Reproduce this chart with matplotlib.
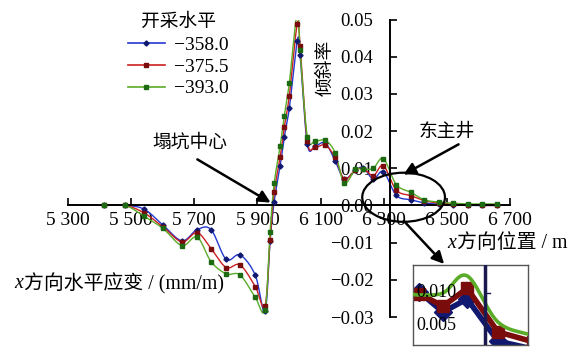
import numpy as np
import matplotlib
matplotlib.use("Agg")
import matplotlib.pyplot as plt
from matplotlib.patches import Ellipse, FancyArrowPatch

plt.rcParams["font.family"] = ["Liberation Serif", "Noto Sans CJK SC"]
plt.rcParams["axes.unicode_minus"] = True

# x position (m) of survey points
x_pos = [5414, 5481, 5541, 5601, 5661, 5709, 5753, 5801, 5845, 5893,
         5924, 5940, 5953, 5972, 5985, 6001, 6026, 6035, 6058, 6083,
         6115, 6146, 6175, 6210, 6235, 6267, 6299, 6340, 6387, 6429,
         6476, 6520, 6568, 6612, 6660]

level_358 = [0.0, 0.0, -0.0010, -0.0053, -0.0095, -0.0065, -0.0065, -0.0145, -0.0133, -0.0187,
             -0.0285, -0.0096, 0.0010, 0.0107, 0.0184, 0.0262, 0.0442, 0.0405, 0.0165, 0.0160,
             0.0168, 0.0120, 0.0072, 0.0094, 0.0102, 0.0071, 0.0091, 0.0027, 0.0015, 0.0007,
             0.0003, 0.0001, 0.0, 0.0, 0.0]

level_375 = [0.0, 0.0, -0.0020, -0.0058, -0.0098, -0.0073, -0.0116, -0.0167, -0.0160, -0.0218,
             -0.0270, -0.0093, 0.0035, 0.0130, 0.0210, 0.0295, 0.0488, 0.0430, 0.0173, 0.0157,
             0.0162, 0.0129, 0.0071, 0.0095, 0.0099, 0.0080, 0.0107, 0.0041, 0.0026, 0.0013,
             0.0006, 0.0003, 0.0001, 0.0, 0.0]

level_393 = [0.0, 0.0, -0.0029, -0.0062, -0.0108, -0.0085, -0.0151, -0.0184, -0.0187, -0.0247,
             -0.0280, -0.0071, 0.0059, 0.0160, 0.0240, 0.0329, 0.0520, 0.0418, 0.0185, 0.0173,
             0.0175, 0.0142, 0.0060, 0.0097, 0.0097, 0.0100, 0.0126, 0.0056, 0.0035, 0.0015,
             0.0009, 0.0006, 0.0004, 0.0004, 0.0004]

series_labels = ["\u2212358.0", "\u2212375.5", "\u2212393.0"]

x_ticks = [5300, 5500, 5700, 5900, 6100, 6300, 6500, 6700]
x_tick_labels = ["5 300", "5 500", "5 700", "5 900", "6 100", "6 300", "6 500", "6 700"]
y_ticks = [-0.03, -0.02, -0.01, 0.00, 0.01, 0.02, 0.03, 0.04, 0.05]
y_tick_labels = ["\u22120.03", "\u22120.02", "\u22120.01", "0.00", "0.01", "0.02", "0.03", "0.04", "0.05"]

shaft_x = 6320
CJK = ["Noto Sans CJK SC"]


def smooth(xs, ys, n=12):
    # Excel-style smoothed line (Catmull-Rom through the points)
    p = np.column_stack([xs, ys]).astype(float)
    p = np.vstack([p[0], p, p[-1]])
    out = []
    t = np.linspace(0, 1, n, endpoint=False)[:, None]
    for i in range(1, len(p) - 2):
        p0, p1, p2, p3 = p[i - 1], p[i], p[i + 1], p[i + 2]
        seg = 0.5 * ((2 * p1) + (-p0 + p2) * t + (2 * p0 - 5 * p1 + 4 * p2 - p3) * t ** 2
                     + (-p0 + 3 * p1 - 3 * p2 + p3) * t ** 3)
        out.append(seg)
    out.append(p[-2][None, :])
    out = np.vstack(out)
    return out[:, 0], out[:, 1]


def italic_x_label(fig, x, y, rest, size):
    # italic "x" followed by the rest of the label
    t = fig.text(x, y, "x", ha="left", va="center", fontsize=size, style="italic",
                 family=["Liberation Serif"])
    r = fig.canvas.get_renderer()
    bb = t.get_window_extent(r).transformed(fig.transFigure.inverted())
    fig.text(bb.x1 + 1 / 579, y, rest, ha="left", va="center", fontsize=size)


styles = [
    dict(line="#2338d0", mk="#101870", marker="D", ms=2.6),
    dict(line="#cc2020", mk="#7a0c0c", marker="s", ms=2.8),
    dict(line="#5aac28", mk="#1d6a12", marker="s", ms=3.4),
]
all_series = [level_358, level_375, level_393]

fig = plt.figure(figsize=(5.79, 3.47), dpi=100)
ax = fig.add_axes([68 / 579, 1 - 317 / 347, 442 / 579, (317 - 19.5) / 347])

handles = []
for ys, st, lab in zip(all_series, styles, series_labels):
    sx, sy = smooth(x_pos, ys)
    ax.plot(sx, sy, color=st["line"], lw=1.0, zorder=2)
    ax.plot(x_pos, ys, ls="none", marker=st["marker"], ms=st["ms"],
            color=st["mk"], zorder=3)
    h, = ax.plot([], [], color=st["line"], lw=1.2, marker=st["marker"],
                 ms=st["ms"], mfc=st["mk"], mec=st["mk"], label=lab)
    handles.append(h)

ax.set_xlim(5300, 6700)
ax.set_ylim(-0.03, 0.05)
for s in ["top", "right"]:
    ax.spines[s].set_visible(False)
ax.spines["left"].set_position(("data", shaft_x))
ax.spines["bottom"].set_position(("data", 0))
ax.spines["left"].set_linewidth(1.4)
ax.spines["bottom"].set_linewidth(1.4)
ax.set_xticks(x_ticks)
ax.set_xticklabels(x_tick_labels)
ax.set_yticks(y_ticks)
ax.set_yticklabels(y_tick_labels)
ax.tick_params(axis="x", direction="in", length=5, width=1.2, labelsize=14, pad=5)
ax.tick_params(axis="y", direction="in", length=5, width=1.2, labelsize=13.5, pad=12)
ax.patch.set_visible(False)

leg = ax.legend(handles=handles, title="开采水平", loc="upper left",
                bbox_to_anchor=(120 / 579, 1 - 3 / 347), bbox_transform=fig.transFigure,
                frameon=False, fontsize=14, title_fontsize=13.5, handlelength=1.9,
                handletextpad=0.5, labelspacing=0.22, borderaxespad=0)
leg.get_title().set_family(CJK)

# axis labels
fig.text(325 / 579, 1 - 68 / 347, "倾斜率", rotation=90, ha="center", va="center",
         fontsize=13.5, family=CJK)
italic_x_label(fig, 14 / 579, 1 - 284 / 347, "方向水平应变 / (mm/m)", 14.3)
italic_x_label(fig, 447 / 579, 1 - 243 / 347, "方向位置 / m", 14.3)

# annotations
fig.text(190 / 579, 1 - 142 / 347, "塌坑中心", ha="center", va="center", fontsize=13.5,
         family=CJK)
fig.patches.append(FancyArrowPatch((195 / 579, 1 - 158 / 347), (273 / 579, 1 - 204 / 347),
                                   transform=fig.transFigure, arrowstyle="-|>",
                                   mutation_scale=18, lw=1.8, color="black"))
fig.text(447 / 579, 1 - 131 / 347, "东主井", ha="center", va="center", fontsize=13.5,
         family=CJK)
fig.patches.append(FancyArrowPatch((461 / 579, 1 - 143 / 347), (401 / 579, 1 - 176 / 347),
                                   transform=fig.transFigure, arrowstyle="-|>",
                                   mutation_scale=18, lw=1.8, color="black"))
ax.add_patch(Ellipse((6363, 0.0022), 262, 0.0132, fill=False, lw=1.6, color="black",
                     zorder=5))
fig.patches.append(FancyArrowPatch((402 / 579, 1 - 219 / 347), (446 / 579, 1 - 266 / 347),
                                   transform=fig.transFigure, arrowstyle="-|>",
                                   mutation_scale=18, lw=1.8, color="black"))

# zoomed inset near the shaft
axin = fig.add_axes([413 / 579, 2 / 347, 115 / 579, 80 / 347])
inset_marker = ["D", "s", None]
for ys, st, mk in zip(all_series, styles, inset_marker):
    sx, sy = smooth(x_pos, ys)
    if mk is None:
        axin.plot(sx, sy, color=st["line"], lw=2.6, zorder=3)
    else:
        axin.plot(x_pos, ys, color=st["mk"], lw=4, marker=mk, ms=9, zorder=2)
axin.axvline(6323, color="#1a1a50", lw=2.5, zorder=4)
axin.plot([6323, 6330], [0.010, 0.010], color="#1a1a50", lw=1.0, zorder=4)
axin.set_xlim(6227, 6380)
axin.set_ylim(0.00212, 0.01424)
axin.set_xticks([])
axin.set_yticks([])
axin.text(0.03, 0.010, "0.010", transform=axin.get_yaxis_transform(), ha="left",
          va="center", fontsize=13, zorder=5)
axin.text(0.03, 0.005, "0.005", transform=axin.get_yaxis_transform(), ha="left",
          va="center", fontsize=13, zorder=5)
for s in axin.spines.values():
    s.set_color("#555555")
    s.set_linewidth(1.0)

fig.savefig("out.png", dpi=100)
